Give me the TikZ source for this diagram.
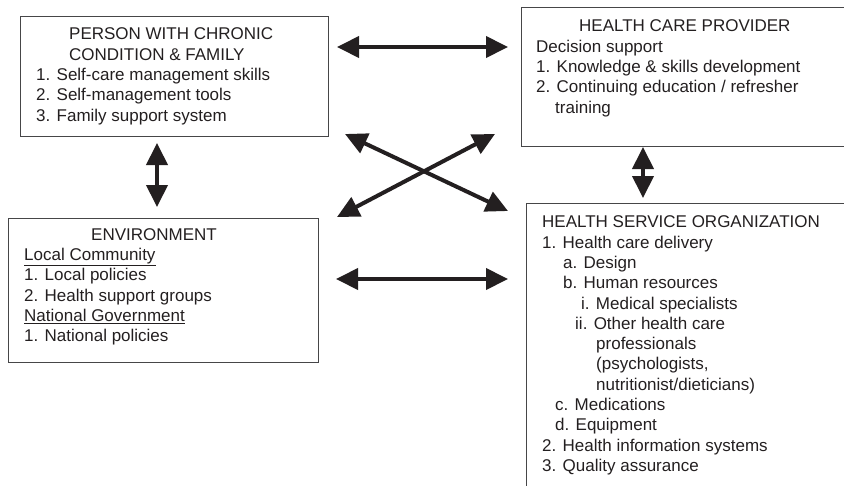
\documentclass[tikz,border=0pt]{standalone}
\usepackage{fontspec}
\setmainfont{Liberation Sans}
\usetikzlibrary{arrows.meta,calc}
\definecolor{ccink}{RGB}{35,31,32}
\definecolor{ccedge}{RGB}{70,70,72}
\tikzset{
  ccbase/.style={line cap=butt, line join=miter},
  ccbox/.style={draw=ccedge,line width=1.2pt,anchor=north west,inner sep=0pt},
  cctext/.style={anchor=north west,inner sep=0pt,align=left,text=ccink,
    font=\fontsize{17}{20.3}\selectfont},
  cctip/.style={Triangle[length=22pt,width=21pt]},
  ccarrow/.style={draw=ccink,line width=4pt,{Triangle[length=22pt,width=21pt]}-{Triangle[length=22pt,width=21pt]}}
}

\begin{document}
\begin{tikzpicture}[ccbase,x=1pt,y=-1pt]
\useasboundingbox (0,0) rectangle (844,485);
\clip (0,0) rectangle (844,485);
% the four boxes
\node[ccbox,minimum width=308pt,minimum height=120pt] (person) at (20,16) {};
\node[ccbox,minimum width=340pt,minimum height=139pt] (provider) at (521,7) {};
\node[ccbox,minimum width=310pt,minimum height=144pt] (env) at (8,218) {};
\node[ccbox,minimum width=340pt,minimum height=300pt] (hso) at (526,203) {};
% their texts
\node[cctext] (persontext) at ($(person.north west)+(16,11.8)$) {%
  \hspace*{33pt}PERSON WITH CHRONIC\\
  \hspace*{33pt}CONDITION \& FAMILY\\
  1. Self-care management skills\\
  2. Self-management tools\\
  3. Family support system};
\node[cctext] (providertext) at ($(provider.north west)+(15,12.8)$) {%
  \hspace*{43pt}HEALTH CARE PROVIDER\\
  Decision support\\
  1. Knowledge \& skills development\\
  2. Continuing education / refresher\\
  \hspace*{19pt}training};
\node[cctext] (envtext) at ($(env.north west)+(16,10.3)$) {%
  \hspace*{67pt}ENVIRONMENT\\
  \underline{Local Community}\\
  1. Local policies\\
  2. Health support groups\\
  \underline{National Government}\\
  1. National policies};
\node[cctext] (hsotext) at ($(hso.north west)+(16,12.8)$) {%
  HEALTH SERVICE ORGANIZATION\\
  1. Health care delivery\\
  \hspace*{21pt}a. Design\\
  \hspace*{21pt}b. Human resources\\
  \hspace*{39pt}i. Medical specialists\\
  \hspace*{33pt}ii. Other health care\\
  \hspace*{54pt}professionals\\
  \hspace*{54pt}(psychologists,\\
  \hspace*{54pt}nutritionist/dieticians)\\
  \hspace*{13pt}c. Medications\\
  \hspace*{13pt}d. Equipment\\
  2. Health information systems\\
  3. Quality assurance};
% arrow ends
\coordinate (pp) at (337,47);
\coordinate (pv) at (508,47);
\coordinate (pe) at (157,143);
\coordinate (ep) at (157,207);
\coordinate (vh) at (643,147);
\coordinate (hv) at (643,198);
\coordinate (ph) at (345,134);
\coordinate (hp) at (508,211);
\coordinate (ev) at (337,217);
\coordinate (ve) at (495,134);
\coordinate (eh) at (336,279);
\coordinate (he) at (508,279);
% links
\draw[ccarrow] (pp) -- (pv);
\draw[ccarrow] (pe) -- (ep);
\draw[ccarrow] (vh) -- (hv);
\draw[ccarrow] (ph) -- (hp);
\draw[ccarrow] (ev) -- (ve);
\draw[ccarrow] (eh) -- (he);
\end{tikzpicture}
\end{document}
